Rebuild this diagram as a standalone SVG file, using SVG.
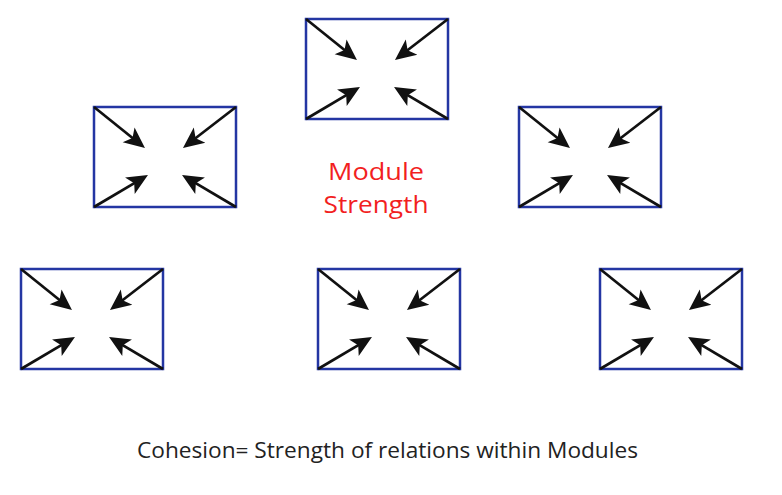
<svg xmlns="http://www.w3.org/2000/svg" xmlns:xlink="http://www.w3.org/1999/xlink" width="782" height="495" viewBox="0 0 782 495">
<style>
.box{fill:#fff;stroke:#2436a3;stroke-width:2.5}
.arr{stroke:#111;stroke-width:2.7;fill:none;marker-end:url(#head)}
.title{font-family:"Open Sans","Noto Sans",sans-serif;font-size:23px;fill:#f21f1f;text-anchor:middle}
.cap{font-family:"Open Sans","Noto Sans",sans-serif;font-size:21px;fill:#222;text-anchor:middle}
</style>
<defs>
<marker id="head" viewBox="0 -11 26 22" markerWidth="26" markerHeight="22" refX="15" refY="0" orient="auto" markerUnits="userSpaceOnUse">
<path d="M0,-9.5 L21,0 L0,9.5 L5,0 Z" fill="#111"/>
</marker>
<g id="mod">
<rect class="box" x="0" y="0" width="142" height="100"/>
<g>
<line class="arr" x1="0" y1="0" x2="46.3" y2="37.2"/>
<line class="arr" x1="142" y1="0" x2="93.7" y2="37.3"/>
<line class="arr" x1="0" y1="100" x2="48.8" y2="71.1"/>
<line class="arr" x1="142" y1="100" x2="93.2" y2="71.1"/>
</g>
</g>
</defs>
<g id="module-top"><use href="#mod" x="306" y="19"/></g>
<g id="module-mid-left"><use href="#mod" x="94" y="107"/></g>
<g id="module-mid-right"><use href="#mod" x="519" y="107"/></g>
<g id="module-bottom-left"><use href="#mod" x="21" y="269"/></g>
<g id="module-bottom-center"><use href="#mod" x="318" y="269"/></g>
<g id="module-bottom-right"><use href="#mod" x="600" y="269"/></g>
<g id="connectors"></g>
<g id="label-strength">
<text class="title" x="376" y="180" textLength="96" lengthAdjust="spacingAndGlyphs">Module</text>
<text class="title" x="376" y="213" textLength="105" lengthAdjust="spacingAndGlyphs">Strength</text>
</g>
<g id="caption">
<text class="cap" x="387.5" y="458" textLength="501" lengthAdjust="spacingAndGlyphs">Cohesion= Strength of relations within Modules</text>
</g>
</svg>
